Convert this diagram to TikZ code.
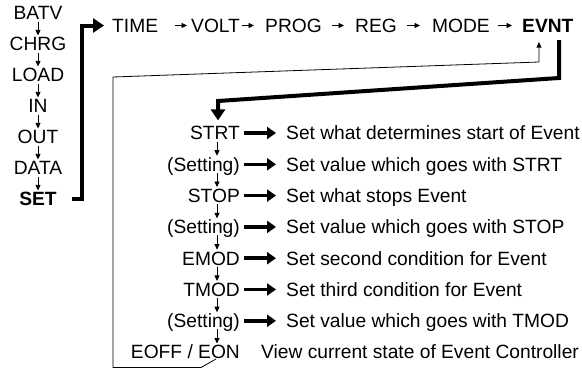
\documentclass[tikz,border=0pt]{standalone}
\usepackage{fontspec}
\setmainfont{Liberation Sans}
\usetikzlibrary{arrows.meta}
\begin{document}
\begin{tikzpicture}[x=1pt,y=-1pt,
  lbl/.style={font=\fontsize{19.2}{21}\selectfont, inner xsep=0pt, inner ysep=1.5pt, text height=13.75pt, text depth=0pt},
  sarr/.style={line width=0.8pt, -{Triangle[length=5.5pt,width=5pt]}},
  fatarr/.style={line width=3.5pt, -{Triangle[length=9pt,width=12pt]}},
  bigline/.style={line width=4pt, line join=miter, -{Triangle[length=11pt,width=14pt]}},
  loopline/.style={line width=0.8pt, line join=miter}]
\fill[white] (0,0) rectangle (582,370);
\useasboundingbox (0,0) rectangle (582,370);

% left column
\node[lbl] (batv) at (38,13) {BATV};
\node[lbl] (chrg) at (38,44) {CHRG};
\node[lbl] (load) at (38,75) {LOAD};
\node[lbl] (in)   at (38,106) {IN};
\node[lbl] (out)  at (38,137) {OUT};
\node[lbl] (data) at (38,168) {DATA};
\node[lbl] (set)  at (38,199) {\bfseries SET};
\draw[sarr] (batv.south) -- (chrg.north);
\draw[sarr] (chrg.south) -- (load.north);
\draw[sarr] (load.south) -- (in.north);
\draw[sarr] (in.south) -- (out.north);
\draw[sarr] (out.south) -- (data.north);
\draw[sarr] (data.south) -- (set.north);

% top row
\node[lbl,anchor=west] (time) at (112,25.5) {TIME};
\node[lbl,anchor=west] (volt) at (191,25.5) {VOLT};
\node[lbl,anchor=west] (prog) at (265,25.5) {PROG};
\node[lbl,anchor=west] (reg)  at (355,25.5) {REG};
\node[lbl,anchor=west] (mode) at (432,25.5) {MODE};
\node[lbl,anchor=west] (evnt) at (522,25.5) {\bfseries EVNT};
\draw[sarr,shorten <=17pt,shorten >=4pt] (time.east) -- (volt.west);
\draw[sarr,shorten <=2pt,shorten >=11pt] (volt.east) -- (prog.west);
\draw[sarr,shorten <=10pt,shorten >=11pt] (prog.east) -- (reg.west);
\draw[sarr,shorten <=10pt,shorten >=12pt] (reg.east) -- (mode.west);
\draw[sarr,shorten <=8pt,shorten >=10pt] (mode.east) -- (evnt.west);

% SET -> TIME
\coordinate (b1) at (82,199);
\draw[bigline,shorten <=15pt,shorten >=8pt] (set.east) -- (b1) |- (time.west);

% middle column
\coordinate (colx) at (217,0);
\node[lbl,anchor=east] (strt) at (240,133) {STRT};
\node[lbl,anchor=east] (s1)   at (240,164.3) {(Setting)};
\node[lbl,anchor=east] (stop) at (240,195.6) {STOP};
\node[lbl,anchor=east] (s2)   at (240,226.9) {(Setting)};
\node[lbl,anchor=east] (emod) at (240,258.2) {EMOD};
\node[lbl,anchor=east] (tmod) at (240,289.5) {TMOD};
\node[lbl,anchor=east] (s3)   at (240,320.8) {(Setting)};
\node[lbl,anchor=east] (eon)  at (240,352.1) {EOFF / EON};
\draw[sarr] (strt.south -| colx) -- (s1.north -| colx);
\draw[sarr] (s1.south -| colx) -- (stop.north -| colx);
\draw[sarr] (stop.south -| colx) -- (s2.north -| colx);
\draw[sarr] (s2.south -| colx) -- (emod.north -| colx);
\draw[sarr] (emod.south -| colx) -- (tmod.north -| colx);
\draw[sarr] (tmod.south -| colx) -- (s3.north -| colx);
\draw[sarr] (s3.south -| colx) -- (eon.north -| colx);

% descriptions
\node[lbl,anchor=west] (d1) at (286,133) {Set what determines start of Event};
\node[lbl,anchor=west] (d2) at (286,164.3) {Set value which goes with STRT};
\node[lbl,anchor=west] (d3) at (286,195.6) {Set what stops Event};
\node[lbl,anchor=west] (d4) at (286,226.9) {Set value which goes with STOP};
\node[lbl,anchor=west] (d5) at (286,258.2) {Set second condition for Event};
\node[lbl,anchor=west] (d6) at (286,289.5) {Set third condition for Event};
\node[lbl,anchor=west] (d7) at (286,320.8) {Set value which goes with TMOD};
\node[lbl,anchor=west] (d8) at (261,352.1) {View current state of Event Controller};
\foreach \a/\b in {strt/d1,s1/d2,stop/d3,s2/d4,emod/d5,tmod/d6,s3/d7}
  \draw[fatarr,shorten <=4pt,shorten >=10pt] (\a.east) -- (\b.west);

% EVNT -> STRT
\coordinate (e1) at (559,78);
\coordinate (e2) at (218,101);
\draw[bigline,shorten <=6pt,shorten >=4pt] (evnt.south -| e1) -- (e1) -- (e2) -- (e2 |- strt.north);

% loop back EOFF/EON -> EVNT
\coordinate (l1) at (539,62);
\coordinate (l2) at (113,77);
\coordinate (l3) at (113,367.5);
\coordinate (l4) at (201,367.5);
\coordinate (l5) at (216,359);
\draw[loopline,-{Triangle[length=5.5pt,width=5pt]},shorten >=8pt] (l5) -- (l4) -- (l3) -- (l2) -- (l1) -- (l1 |- evnt.south);
\end{tikzpicture}
\end{document}
